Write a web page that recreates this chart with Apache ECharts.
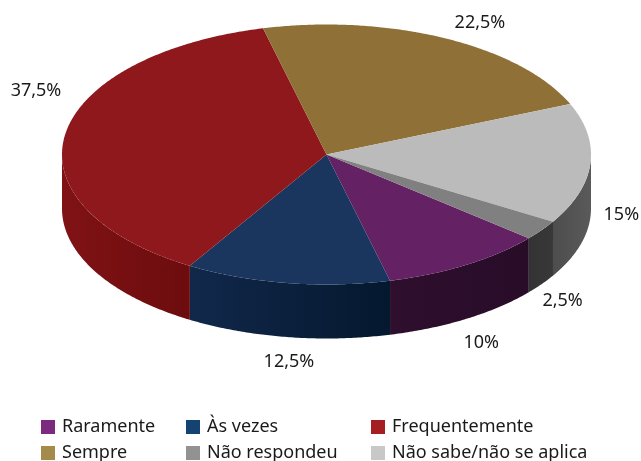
<!DOCTYPE html>
<html>
<head>
<meta charset="utf-8">
<style>html,body{margin:0;padding:0;background:#fff}#c{width:641px;height:461px}</style>
<script src="https://cdn.jsdelivr.net/npm/echarts@6/dist/echarts.min.js"></script>
</head>
<body>
<div id="c"></div>
<script>
// Slices in clockwise drawing order
const categories = ['Raramente', 'Às vezes', 'Frequentemente', 'Sempre', 'Não sabe/não se aplica', 'Não respondeu'];
const values = [10, 12.5, 37.5, 22.5, 15, 2.5];
const percentLabels = ['10%', '12,5%', '37,5%', '22,5%', '15%', '2,5%'];
const legendColors = ['#7b2a80', '#144273', '#a51e22', '#a58b4b', '#c8c8c8', '#929292'];
const topColors = ['#642164', '#1a365f', '#8e181b', '#8f7138', '#bbbbbb', '#808080'];
const wallStart = ['#2e0f2e', '#12284b', '#801214', '#000000', '#4d4d4d', '#333333'];
const wallEnd = ['#280c28', '#04182e', '#6c0c0e', '#000000', '#5a5a5a', '#383838'];
const legendRows = [
  ['Raramente', 'Às vezes', 'Frequentemente'],
  ['Sempre', 'Não respondeu', 'Não sabe/não se aplica']
];
const legendLefts = [41, 186, 371];
const legendTops = [416, 442];
const labelOffsets = [[15, 78], [2, 79], [-29, -44], [35, -15], [31, 51], [21, 71]];

const CX = 326.5, CY = 154.5, RX = 264.5, RY = 130, DEPTH = 54;
const START_DEG = 130.1; // clockwise from top, where the first slice begins
const FONT = 'Noto Sans';
const total = values.reduce((a, b) => a + b, 0);

function pt(deg, dy) {
  const r = deg * Math.PI / 180;
  return [CX + RX * Math.sin(r), CY - RY * Math.cos(r) + (dy || 0)];
}
function arc(a, b, dy) {
  const out = [];
  const n = Math.max(2, Math.ceil((b - a) * 2));
  for (let i = 0; i <= n; i++) out.push(pt(a + (b - a) * i / n, dy));
  return out;
}

function renderSlice(idx) {
  return function (params, api) {
    const v = api.value(0);
    let before = 0;
    for (let i = 0; i < idx; i++) before += values[i];
    const a = START_DEG + before / total * 360;
    const b = a + v / total * 360;
    const children = [];
    [[90, 270], [450, 630]].forEach(function (win) {
      const wa = Math.max(a, win[0]), wb = Math.min(b, win[1]);
      if (wb > wa) {
        const up = arc(wa, wb, 0), down = arc(wa, wb, DEPTH).reverse();
        const xs = up.map(p => p[0]);
        const x0 = Math.min.apply(null, xs), x1 = Math.max.apply(null, xs);
        children.push({
          type: 'polygon',
          shape: { points: up.concat(down) },
          style: {
            fill: new echarts.graphic.LinearGradient(x0, 0, x1, 0, [
              { offset: 0, color: wallStart[idx] },
              { offset: 1, color: wallEnd[idx] }
            ], true)
          }
        });
      }
    });
    children.push({
      type: 'polygon',
      shape: { points: [[CX, CY]].concat(arc(a, b, 0)) },
      style: { fill: topColors[idx] }
    });
    const mid = pt((a + b) / 2, 0);
    children.push({
      type: 'text',
      z2: 100,
      style: {
        x: mid[0] + labelOffsets[idx][0],
        y: mid[1] + labelOffsets[idx][1],
        text: percentLabels[idx],
        fill: '#1a1a1a',
        font: '18px "' + FONT + '"',
        align: 'center',
        verticalAlign: 'middle'
      }
    });
    return { type: 'group', children: children };
  };
}

const legends = [];
legendRows.forEach(function (row, r) {
  row.forEach(function (name, c) {
    legends.push({
      left: legendLefts[c],
      top: legendTops[r],
      icon: 'rect',
      itemWidth: 14,
      itemHeight: 14,
      itemGap: 0,
      padding: 0,
      selectedMode: false,
      data: [{ name: name }],
      textStyle: { fontFamily: FONT, fontSize: 18, color: '#1a1a1a', padding: [0, 0, 0, 2], lineHeight: 22 }
    });
  });
});

const chart = echarts.init(document.getElementById('c'), null, { renderer: 'canvas' });
chart.setOption({
  animation: false,
  backgroundColor: '#ffffff',
  tooltip: { show: false },
  legend: legends,
  series: categories.map(function (name, i) {
    return {
      type: 'custom',
      name: name,
      coordinateSystem: 'none',
      silent: true,
      clip: false,
      itemStyle: { color: legendColors[i] },
      renderItem: renderSlice(i),
      data: [[values[i]]]
    };
  })
});
</script>
</body>
</html>
